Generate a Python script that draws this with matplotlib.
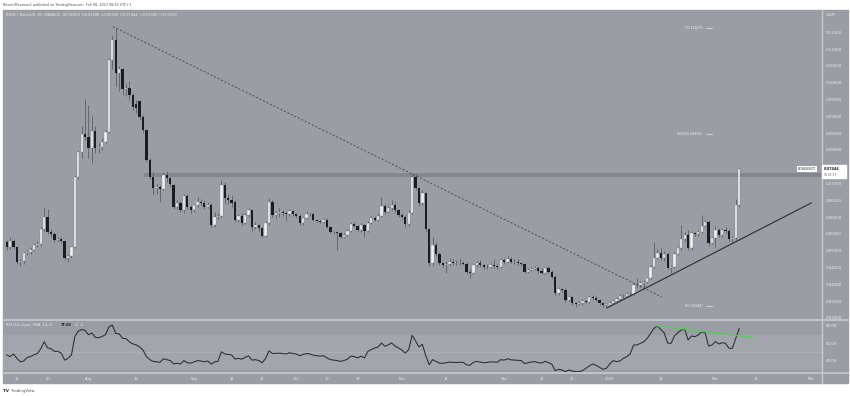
import matplotlib
matplotlib.use("Agg")
import matplotlib.pyplot as plt
from matplotlib.patches import Rectangle
from matplotlib.lines import Line2D
import numpy as np
import pandas as pd

# daily candles ROSE/USDT, 2022-07-08 .. 2023-02-08
start = pd.Timestamp("2022-07-08")

opens = [.0525, .0510, .0530, .0510, .0466, .0470, .0493, .0496, .0503, .0517,
         .0520, .0564, .0600, .0557, .0550, .0532, .0535, .0528, .0478, .0485,
         .0512, .0719, .0795, .0847, .0840, .0805, .0856, .0806, .0810, .0825,
         .0854, .1068, .1127, .1028, .1040, .0981, .0985, .0964, .0938, .0945,
         .0899, .0859, .0770, .0721, .0686, .0690, .0685, .0726, .0716, .0696,
         .0631, .0642, .0620, .0663, .0631, .0620, .0635, .0645, .0642, .0631,
         .0636, .0577, .0601, .0604, .0696, .0656, .0651, .0646, .0592, .0604,
         .0584, .0607, .0621, .0572, .0577, .0567, .0544, .0582, .0646, .0607,
         .0612, .0616, .0612, .0608, .0618, .0610, .0604, .0582, .0597, .0610,
         .0608, .0592, .0590, .0587, .0592, .0570, .0557, .0555, .0552, .0540,
         .0548, .0560, .0580, .0574, .0562, .0577, .0559, .0584, .0597, .0592,
         .0604, .0633, .0616, .0626, .0636, .0620, .0607, .0601, .0580, .0613,
         .0721, .0686, .0641, .0671, .0564, .0463, .0518, .0491, .0463, .0458,
         .0462, .0467, .0465, .0463, .0465, .0462, .0438, .0435, .0458, .0465,
         .0458, .0451, .0453, .0457, .0455, .0453, .0473, .0468, .0477, .0468,
         .0466, .0463, .0462, .0438, .0443, .0447, .0450, .0440, .0435, .0448,
         .0438, .0423, .0373, .0385, .0383, .0354, .0362, .0344, .0341, .0344,
         .0351, .0349, .0362, .0360, .0354, .0344, .0339, .0340, .0346, .0352,
         .0356, .0365, .0366, .0372, .0371, .0398, .0397, .0403, .0408, .0418,
         .0453, .0478, .0493, .0478, .0490, .0448, .0451, .0490, .0507, .0534,
         .0547, .0507, .0552, .0550, .0557, .0574, .0587, .0524, .0537, .0562,
         .0547, .0562, .0560, .0534, .0538, .06359]
highs = [.0532, .0540, .0535, .0513, .0475, .0497, .0502, .0510, .0522, .0528,
         .0570, .0626, .0625, .0565, .0555, .0540, .0540, .0530, .0490, .0515,
         .0725, .0800, .0870, .0953, .0935, .0900, .0870, .0820, .0835, .0860,
         .1075, .1140, .1163, .1050, .1045, .0995, .1005, .0970, .0950, .0950,
         .0905, .0862, .0775, .0735, .0700, .0695, .0735, .0738, .0720, .0700,
         .0650, .0648, .0668, .0668, .0635, .0640, .0660, .0655, .0650, .0645,
         .0642, .0615, .0612, .0710, .0705, .0670, .0665, .0650, .0610, .0612,
         .0612, .0628, .0625, .0585, .0580, .0570, .0590, .0658, .0650, .0618,
         .0628, .0620, .0615, .0625, .0622, .0612, .0608, .0600, .0618, .0615,
         .0612, .0596, .0593, .0598, .0598, .0573, .0560, .0560, .0556, .0552,
         .0565, .0586, .0585, .0578, .0582, .0580, .0588, .0603, .0605, .0612,
         .0660, .0640, .0632, .0650, .0645, .0625, .0612, .0606, .0620, .0728,
         .0728, .0690, .0680, .0675, .0568, .0540, .0525, .0495, .0468, .0470,
         .0478, .0475, .0472, .0480, .0470, .0466, .0445, .0462, .0470, .0472,
         .0462, .0460, .0465, .0475, .0460, .0478, .0480, .0485, .0482, .0475,
         .0476, .0468, .0465, .0448, .0452, .0455, .0455, .0450, .0452, .0455,
         .0442, .0428, .0392, .0390, .0388, .0368, .0366, .0348, .0350, .0356,
         .0355, .0368, .0368, .0365, .0358, .0346, .0345, .0350, .0358, .0362,
         .0370, .0372, .0378, .0376, .0403, .0418, .0410, .0412, .0422, .0458,
         .0527, .0505, .0512, .0498, .0495, .0455, .0495, .0512, .0577, .0557,
         .0562, .0560, .0557, .0562, .0607, .0592, .0592, .0542, .0575, .0568,
         .0568, .0570, .0565, .0545, .0654, .07498]
lows = [.0503, .0505, .0505, .0462, .0455, .0460, .0488, .0490, .0498, .0512,
        .0515, .0558, .0550, .0540, .0525, .0527, .0522, .0472, .0468, .0480,
        .0508, .0715, .0775, .0830, .0775, .0760, .0790, .0790, .0800, .0820,
        .0850, .1040, .0990, .0975, .0965, .0960, .0950, .0920, .0910, .0890,
        .0850, .0765, .0715, .0670, .0670, .0645, .0680, .0705, .0690, .0625,
        .0625, .0615, .0612, .0625, .0612, .0615, .0630, .0635, .0625, .0628,
        .0570, .0570, .0595, .0600, .0640, .0640, .0630, .0585, .0585, .0578,
        .0580, .0600, .0560, .0565, .0560, .0538, .0540, .0578, .0600, .0598,
        .0600, .0605, .0590, .0603, .0605, .0598, .0578, .0577, .0595, .0603,
        .0588, .0585, .0582, .0583, .0567, .0553, .0550, .0502, .0537, .0537,
        .0545, .0556, .0570, .0558, .0556, .0540, .0556, .0580, .0588, .0588,
        .0600, .0610, .0612, .0620, .0615, .0602, .0596, .0572, .0575, .0610,
        .0680, .0632, .0636, .0555, .0455, .0455, .0485, .0458, .0452, .0433,
        .0455, .0458, .0458, .0458, .0458, .0432, .0420, .0430, .0453, .0453,
        .0446, .0446, .0448, .0450, .0446, .0450, .0462, .0464, .0463, .0460,
        .0458, .0456, .0433, .0433, .0440, .0443, .0435, .0430, .0430, .0433,
        .0418, .0368, .0368, .0378, .0348, .0350, .0340, .0333, .0338, .0340,
        .0345, .0346, .0355, .0350, .0340, .0334, .0333, .0336, .0343, .0349,
        .0352, .0360, .0362, .0366, .0368, .0390, .0392, .0388, .0405, .0415,
        .0450, .0475, .0473, .0470, .0445, .0433, .0448, .0487, .0503, .0530,
        .0503, .0503, .0545, .0545, .0553, .0570, .0515, .0520, .0510, .0540,
        .0542, .0553, .0530, .0525, .0533, .06304]
closes = [.0510, .0530, .0510, .0466, .0470, .0493, .0496, .0503, .0517, .0520,
          .0564, .0600, .0557, .0550, .0532, .0535, .0528, .0478, .0485, .0512,
          .0719, .0795, .0847, .0840, .0805, .0856, .0806, .0810, .0825, .0854,
          .1068, .1127, .1028, .1040, .0981, .0985, .0964, .0929, .0925, .0899,
          .0859, .0770, .0721, .0686, .0690, .0685, .0726, .0716, .0700, .0631,
          .0642, .0620, .0663, .0631, .0620, .0635, .0645, .0642, .0631, .0636,
          .0577, .0601, .0604, .0696, .0656, .0651, .0641, .0592, .0604, .0584,
          .0607, .0621, .0572, .0577, .0567, .0544, .0582, .0646, .0607, .0612,
          .0616, .0612, .0608, .0618, .0610, .0604, .0582, .0597, .0610, .0608,
          .0592, .0590, .0587, .0592, .0570, .0557, .0555, .0552, .0540, .0548,
          .0560, .0580, .0574, .0562, .0577, .0559, .0584, .0597, .0592, .0604,
          .0633, .0616, .0626, .0636, .0620, .0607, .0601, .0580, .0613, .0721,
          .0686, .0641, .0671, .0564, .0463, .0518, .0491, .0463, .0458, .0462,
          .0467, .0465, .0463, .0465, .0462, .0438, .0435, .0458, .0465, .0458,
          .0451, .0453, .0457, .0455, .0453, .0473, .0468, .0477, .0468, .0466,
          .0463, .0462, .0438, .0443, .0447, .0450, .0440, .0435, .0448, .0438,
          .0423, .0373, .0385, .0383, .0354, .0362, .0344, .0341, .0344, .0351,
          .0349, .0362, .0360, .0354, .0344, .0339, .0340, .0346, .0352, .0356,
          .0365, .0366, .0372, .0371, .0398, .0397, .0403, .0408, .0418, .0453,
          .0478, .0493, .0478, .0490, .0448, .0451, .0490, .0507, .0534, .0547,
          .0507, .0552, .0550, .0557, .0574, .0587, .0524, .0537, .0562, .0547,
          .0562, .0560, .0534, .0538, .0636, .07444]

rsi = [47, 45, 48, 43, 39, 40, 44, 45, 47, 48.5,
       54, 62, 55, 54, 51, 51, 49, 41, 43, 47,
       68, 74, 76, 75, 70, 72, 67, 66.5, 68, 70,
       79, 81, 71.5, 71, 66, 65.5, 62, 59.5, 58.5, 56,
       52.5, 45, 41.5, 39.5, 39, 38.5, 42.5, 41.5, 40.5, 36.6,
       37.5, 36.5, 40.5, 38, 37.5, 39, 40.4, 40, 39, 40,
       36.5, 39, 39.5, 50.5, 48, 47.5, 46.9, 42.3, 43, 42,
       44.2, 45.7, 41, 41.5, 40.5, 38, 43, 51.5, 48.5, 48.8,
       49, 48.5, 48, 49.5, 48.5, 48, 46, 47.5, 48.5, 48,
       46.5, 46, 45.5, 46, 43.5, 41.5, 41, 40.5, 39.5, 40.5,
       42, 45.5, 45, 43.5, 45.5, 43.5, 51, 53, 54.8, 56,
       60.6, 56.8, 58.5, 60.6, 57, 54.8, 52.5, 49, 53, 69.3,
       63, 56, 59, 46, 35.8, 41.5, 39.5, 37.5, 37.3, 38,
       38.7, 38.4, 38.2, 38.6, 38.3, 35.5, 35.2, 38.5, 39.5, 38.7,
       38, 38.3, 39, 38.8, 38.6, 41.5, 41, 42.5, 41.3, 41,
       40.6, 40.5, 37, 38, 38.8, 39.3, 38.1, 37.6, 39.6, 38.2,
       36.3, 29, 30.5, 29.7, 27.8, 29.7, 28.5, 27.8, 27.8, 29,
       31.6, 34.3, 36.6, 35, 32.8, 30.5, 31.6, 36.6, 40.4, 39.2,
       40, 43, 45, 48, 58.3, 58.3, 60.2, 62, 65.9, 71.6,
       77.3, 80, 76, 72, 60.5, 60.2, 68.6, 72.4, 75.4, 76.2,
       64, 68.6, 67.8, 69.7, 73.4, 72.4, 57.1, 58.3, 62.1, 59.4,
       60.9, 60.2, 54.5, 54.5, 66, 77.09]

tick_dates = ["2022-07-11", "2022-07-20", "2022-08-01", "2022-08-15", "2022-09-01",
              "2022-09-12", "2022-09-21", "2022-10-01", "2022-10-10", "2022-10-19",
              "2022-11-01", "2022-11-14", "2022-12-01", "2022-12-12", "2022-12-21",
              "2023-01-01", "2023-01-16", "2023-02-01", "2023-02-13", "2023-03-01"]
tick_labels = ["11", "20", "Aug", "15", "Sep", "12", "21", "Oct", "10", "19",
               "Nov", "14", "Dec", "12", "21", "2023", "16", "Feb", "13", "Mar"]
price_ticks = [0.030, 0.035, 0.040, 0.045, 0.050, 0.055, 0.060, 0.065, 0.070,
               0.075, 0.080, 0.085, 0.090, 0.095, 0.100, 0.105, 0.110, 0.115]
rsi_ticks = [40, 60, 80]

# drawings (index, price)
down_trend = [(31.2, 0.1167), (192.3, 0.03625)]
up_trend = [(176.2, 0.03298), (236.1, 0.06422)]
resist_zone = (40.3, 0.0719, 0.0731)
fib_levels = [(1, 0.11627), (0.618, 0.08463), (0, 0.03344)]
rsi_trend = [(190.3, 80.4), (219.1, 66.7)]
last_price = closes[-1]

W, H = 850, 396
BG = "#9b9da5"
LIGHT = "#eeeff1"
SEP = "#c9cace"

def fx(px):
    return px / W

def fy(py):
    return 1 - py / H

fig = plt.figure(figsize=(8.5, 3.96), dpi=100)
fig.patch.set_facecolor("white")
fig.patches.append(Rectangle((fx(3), fy(383)), fx(845), 373 / H,
                             transform=fig.transFigure, color=BG, zorder=-5))

x = np.arange(len(closes))
o = np.array(opens)
c = np.array(closes)
up = c >= o

ax = fig.add_axes([fx(3), fy(319), fx(819), 309 / H])
ax.set_facecolor(BG)
ax.set_xlim(-1.09, 239.3)
ax.set_ylim(0.0297, 0.12166)
for s in ax.spines.values():
    s.set_visible(False)

# resistance zone
ax.add_patch(Rectangle((resist_zone[0], resist_zone[1]), 300, resist_zone[2] - resist_zone[1],
                       color="#85878e", lw=0, zorder=1))

ax.vlines(x, lows, highs, color="#5c5e64", lw=0.6, zorder=2)
body = np.maximum(np.abs(c - o), 0.00018)
ax.bar(x[up], body[up], bottom=np.minimum(o, c)[up], width=0.68,
       color="#f3f3f4", edgecolor="#74767c", linewidth=0.25, zorder=3)
ax.bar(x[~up], body[~up], bottom=np.minimum(o, c)[~up], width=0.68,
       color="#1c1d21", lw=0, zorder=3)

(x0, y0), (x1, y1) = down_trend
ax.plot([x0, x1], [y0, y1], color="#4a4c52", lw=0.7, ls=(0, (2, 2)), zorder=4)
(x0, y0), (x1, y1) = up_trend
ax.plot([x0, x1], [y0, y1], color="#303236", lw=0.85, zorder=4)

for lvl, val in fib_levels:
    ax.plot([205.3, 207.0], [val, val], color="#dcdde0", lw=0.6, zorder=4)
    ax.text(204.4, val, f"{lvl}({val:.5f})", color="#eeeeee", fontsize=2.4,
            ha="right", va="center", zorder=5)

# the last-price tag hides the axis label next to it
ax.set_yticks(price_ticks)
ax.set_yticklabels(["" if abs(p - last_price) < 0.002 else f"{p:.5f}" for p in price_ticks])
ax.yaxis.tick_right()
ax.tick_params(axis="y", length=0, pad=3, labelsize=2.8, labelcolor=LIGHT)
ax.set_xticks([])

# rsi panel
ax2 = fig.add_axes([fx(3), fy(372), fx(819), 51 / H])
ax2.set_facecolor(BG)
ax2.set_xlim(-1.09, 239.3)
ax2.set_ylim(27.4, 85.7)
for s in ax2.spines.values():
    s.set_visible(False)
ax2.axhspan(30, 70, color="#a3a5ac", lw=0, zorder=0)
ax2.axhline(50, color="#c2c3c7", lw=0.5, ls=(0, (2, 2)), zorder=1)
ax2.plot(x, rsi, color="#2b2c30", lw=0.75, zorder=3)
(x0, y0), (x1, y1) = rsi_trend
ax2.plot([x0, x1], [y0, y1], color="#4fd14f", lw=0.8, zorder=4)
ax2.set_yticks(rsi_ticks)
ax2.set_yticklabels([f"{v:.2f}" for v in rsi_ticks])
ax2.yaxis.tick_right()
ax2.tick_params(axis="y", length=0, pad=3, labelsize=2.8, labelcolor=LIGHT)
ax2.set_xticks([(pd.Timestamp(d) - start).days for d in tick_dates])
ax2.set_xticklabels(tick_labels)
ax2.tick_params(axis="x", length=0, pad=3.5, labelsize=2.6, labelcolor=LIGHT)

# separators
fig.add_artist(Line2D([fx(3), fx(848)], [fy(320), fy(320)], color=SEP, lw=1.2))
fig.add_artist(Line2D([fx(3), fx(848)], [fy(372.5), fy(372.5)], color=SEP, lw=1.2))
fig.add_artist(Line2D([fx(822), fx(822)], [fy(10), fy(383)], color=SEP, lw=1.0))

# texts
fig.text(fx(3), fy(5), "BitcoinMaximus1 published on TradingView.com, Feb 08, 2023 08:26 UTC+1",
         fontsize=2.4, color="#505257", va="center")
fig.text(fx(6), fy(15), "ROSE / TetherUS, 1D, BINANCE  O0.06359  H0.07498  L0.06304  C0.07444  +0.01085 (+17.06%)",
         fontsize=2.5, color=LIGHT, va="center")
fig.text(fx(826), fy(15), "USDT", fontsize=2.6, color=LIGHT, va="center")
fig.text(fx(6), fy(325), "RSI (14, close, SMA, 14, 2)", fontsize=2.5, color=LIGHT, va="center")
fig.text(fx(61), fy(325), "77.09", fontsize=2.5, color="#1c1d21", va="center", weight="bold")
fig.text(fx(75), fy(325), "\u2205  \u2205", fontsize=2.5, color=LIGHT, va="center")
fig.text(fx(3), fy(391), "TV", fontsize=3, color="#2a2b2f", va="center", weight="bold")
fig.text(fx(11), fy(391), "TradingView", fontsize=2.8, color="#505257", va="center")

# last price tags
fig.text(fx(798), fy(169), "ROSEUSDT", fontsize=2.3, color="#2a2b2f", va="center",
         bbox=dict(boxstyle="square,pad=0.35", fc="white", ec="none"))
fig.patches.append(Rectangle((fx(822), fy(178.5)), fx(24), 13 / H,
                             transform=fig.transFigure, color="white", zorder=5))
fig.text(fx(824), fy(168.5), f"{last_price:.5f}", fontsize=2.5, color="#1c1d21", va="center",
         weight="bold", zorder=6)
fig.text(fx(824), fy(175.5), "16:33:37", fontsize=2.1, color="#555", va="center", zorder=6)

fig.savefig("out.png", dpi=100, facecolor="white")
